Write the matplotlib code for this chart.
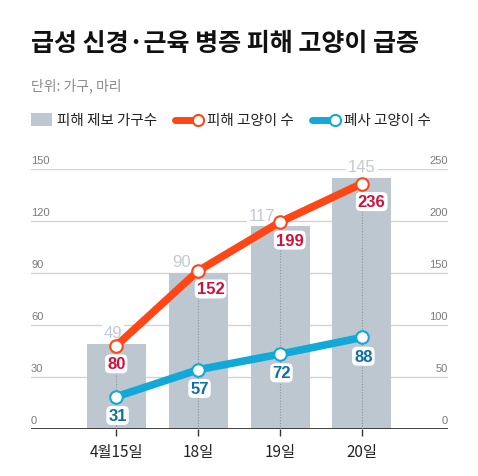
import matplotlib
matplotlib.use("Agg")
import matplotlib.pyplot as plt
from matplotlib.lines import Line2D
from matplotlib.patches import Rectangle

plt.rcParams['font.family'] = ['Noto Sans CJK KR', 'DejaVu Sans']

# ---- data ----
categories = ["4월15일", "18일", "19일", "20일"]
reports = [49, 90, 117, 145]          # 피해 제보 가구수 (left axis)
affected = [80, 152, 199, 236]        # 피해 고양이 수 (right axis)
deaths = [31, 57, 72, 88]             # 폐사 고양이 수 (right axis)
left_ticks = [0, 30, 60, 90, 120, 150]
right_ticks = [0, 50, 100, 150, 200, 250]

title = "급성 신경·근육 병증 피해 고양이 급증"
subtitle = "단위: 가구, 마리"
legend_labels = ["피해 제보 가구수", "피해 고양이 수", "폐사 고양이 수"]

# ---- style ----
BAR = "#bdc7cf"
BAR_TXT = "#c3cad1"
RED = "#ff4616"
RED_TXT = "#d0103a"
BLUE = "#10a9d8"
BLUE_TXT = "#0f6fa6"
GRID = "#d4d4d4"
TICK_TXT = "#7a7a7a"

W, H = 478, 477
fig = plt.figure(figsize=(W / 100, H / 100), dpi=100)

ax_l, ax_r, ax_b, ax_t = 31, 448, 430, 170
ax = fig.add_axes([ax_l / W, 1 - ax_b / H, (ax_r - ax_l) / W, (ax_b - ax_t) / H])
ax2 = ax.twinx()
ax.set_zorder(1)
ax2.set_zorder(2)
ax.patch.set_visible(False)
ax2.patch.set_visible(False)

x = list(range(len(categories)))
ax.set_xlim(-1.04, len(categories) - 1 + 1.05)
ax.set_ylim(0, left_ticks[-1])
ax2.set_ylim(0, right_ticks[-1])

for a in (ax, ax2):
    for s in a.spines.values():
        s.set_visible(False)
    a.set_yticks([])

# gridlines
for t in left_ticks[1:]:
    ax.axhline(t, color=GRID, lw=1.0, zorder=0)
ax.axhline(0, color="#333333", lw=1.3, zorder=3)

# tick labels (left and right) drawn above gridlines
for lt, rt in zip(left_ticks, right_ticks):
    ax.annotate(str(lt), xy=(0, lt), xycoords=("axes fraction", "data"),
                xytext=(0, 3), textcoords="offset points", ha="left", va="bottom",
                fontsize=8, color=TICK_TXT, family="Liberation Sans")
    ax2.annotate(str(rt), xy=(1, rt), xycoords=("axes fraction", "data"),
                 xytext=(0, 3), textcoords="offset points", ha="right", va="bottom",
                 fontsize=8, color=TICK_TXT, family="Liberation Sans")

# bars
ax.bar(x, reports, width=0.72, color=BAR, zorder=1)

# dotted guides from red points to baseline
for xi, v in zip(x, affected):
    ax2.plot([xi, xi], [0, v], color="#8d949a", lw=0.8, ls=(0, (1, 1.5)), zorder=1)

# x ticks
ax.set_xticks(x)
ax.set_xticklabels(categories, fontsize=11, color="#222222")
ax.tick_params(axis="x", length=5, width=1, color="#333333", pad=5, direction="out")

# lines
ax2.plot(x, affected, color=RED, lw=5.5, zorder=4, solid_capstyle="round",
         marker="o", markersize=9, markerfacecolor="white",
         markeredgecolor=RED, markeredgewidth=1.5)
ax2.plot(x, deaths, color=BLUE, lw=5.5, zorder=4, solid_capstyle="round",
         marker="o", markersize=9, markerfacecolor="white",
         markeredgecolor=BLUE, markeredgewidth=1.5)

box = dict(boxstyle="round,pad=0.12,rounding_size=0.3", fc="white", ec="none")

bar_dx = [-2, -12, -13, 0]
for xi, v, dx in zip(x, reports, bar_dx):
    ax.annotate(str(v), xy=(xi, v), xytext=(dx, 8), textcoords="offset points",
                ha="center", va="center", fontsize=12, color=BAR_TXT, zorder=5,
                family="Liberation Sans",
                bbox=dict(boxstyle="square,pad=0.1", fc="white", ec="none"))

red_dx = [0, 9, 7, 7]
for xi, v, dx in zip(x, affected, red_dx):
    ax2.annotate(str(v), xy=(xi, v), xytext=(dx, -13), textcoords="offset points",
                 ha="center", va="center", fontsize=12, fontweight="bold",
                 color=RED_TXT, zorder=6, family="Liberation Sans", bbox=box)

for xi, v in zip(x, deaths):
    ax2.annotate(str(v), xy=(xi, v), xytext=(1, -13.5), textcoords="offset points",
                 ha="center", va="center", fontsize=12, fontweight="bold",
                 color=BLUE_TXT, zorder=6, family="Liberation Sans", bbox=box)

# title and subtitle
fig.text(31 / W, 1 - 44 / H, title, fontsize=18, fontweight=900,
         color="#111111", ha="left", va="center")
fig.text(31 / W, 1 - 86 / H, subtitle, fontsize=10, color="#8a8a8a",
         ha="left", va="center")

# legend (hand-drawn)
ly = 1 - 121 / H
fig.patches.append(Rectangle((31 / W, 1 - 127 / H), 21 / W, 13 / H,
                             transform=fig.transFigure, fc=BAR, ec="none"))
fig.text(57 / W, ly, legend_labels[0], fontsize=10.5, color="#222222",
         ha="left", va="center", fontweight=500)
for x0, x1, col, tx, lab in [(175, 198, RED, 207, legend_labels[1]),
                             (312, 335, BLUE, 344, legend_labels[2])]:
    fig.lines.append(Line2D([x0 / W, x1 / W], [ly, ly], transform=fig.transFigure,
                            color=col, lw=5, solid_capstyle="round"))
    fig.lines.append(Line2D([x1 / W], [ly], transform=fig.transFigure,
                            marker="o", markersize=8, markerfacecolor="white",
                            markeredgecolor=col, markeredgewidth=1.5, ls="none"))
    fig.text(tx / W, ly, lab, fontsize=10.5, color="#222222",
             ha="left", va="center", fontweight=500)

fig.savefig("out.png", dpi=100, facecolor="white")
